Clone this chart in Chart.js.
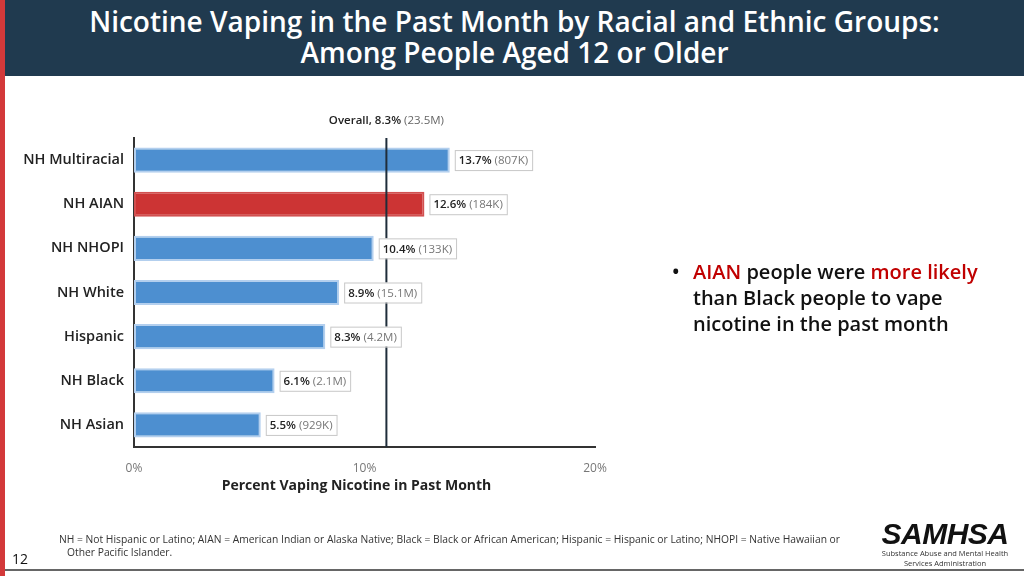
<!DOCTYPE html>
<html>
<head>
<meta charset="utf-8">
<script src="https://cdn.jsdelivr.net/npm/chart.js@4/dist/chart.umd.min.js"></script>
<style>
  html, body { margin:0; padding:0; width:1024px; height:576px; overflow:hidden; background:#fff; font-family:"Open Sans", sans-serif; }
  #stripe { position:absolute; left:0; top:0; width:5px; height:576px; background:#d3393a; }
  #header { position:absolute; left:5px; top:0; width:1019px; height:76px; background:#203a4f; color:#fff; text-align:center; font-weight:600; font-size:28px; line-height:31px; padding-top:6px; box-sizing:border-box; }
  #chartWrap { position:absolute; left:0; top:0; width:1024px; height:576px; }
  #bullet { position:absolute; left:672px; top:259px; width:345px; font-size:20px; font-weight:600; line-height:26px; color:#111; }
  #bullet .dot { position:absolute; left:0; top:0; }
  #bullet .txt { position:absolute; left:21px; top:0; width:330px; white-space:nowrap; }
  .red { color:#c00000; }
  #foot { position:absolute; left:59px; top:533px; font-size:10.3px; line-height:13px; color:#333; width:800px; }
  #pagenum { position:absolute; left:12px; top:549px; font-size:14px; color:#111; }
  #logo { position:absolute; left:870px; top:519px; width:150px; text-align:center; }
  #logo .big { font-size:30px; font-weight:900; font-style:italic; line-height:30px; letter-spacing:-0.5px; color:#111; font-family:"Liberation Sans", Arial, sans-serif; }
  #logo .small { font-size:7.5px; line-height:9.5px; color:#333; }
  #bottomLine { position:absolute; left:5px; top:569px; width:1019px; height:2px; background:#666; }
</style>
</head>
<body>
<div id="stripe"></div>
<div id="header">Nicotine Vaping in the Past Month by Racial and Ethnic Groups:<br>Among People Aged 12 or Older</div>
<div id="chartWrap"><canvas id="c" width="1024" height="576"></canvas></div>
<div id="bullet"><span class="dot">•</span><div class="txt"><span class="red">AIAN</span> people were <span class="red">more likely</span><br>than Black people to vape<br>nicotine in the past month</div></div>
<div id="foot">NH = Not Hispanic or Latino; AIAN = American Indian or Alaska Native; Black = Black or African American; Hispanic = Hispanic or Latino; NHOPI = Native Hawaiian or<br>&nbsp;&nbsp;&nbsp;Other Pacific Islander.</div>
<div id="pagenum">12</div>
<div id="logo"><div class="big">SAMHSA</div><div class="small">Substance Abuse and Mental Health<br>Services Administration</div></div>
<div id="bottomLine"></div>
<script>
const categories = ['NH Multiracial', 'NH AIAN', 'NH NHOPI', 'NH White', 'Hispanic', 'NH Black', 'NH Asian'];
const percentValues = [13.7, 12.6, 10.4, 8.9, 8.3, 6.1, 5.5];
const countLabels = ['807K', '184K', '133K', '15.1M', '4.2M', '2.1M', '929K'];
const highlightCategory = 'NH AIAN';
const xTickValues = [0, 10, 20];
const overallLinePosition = 10.95; // where the reference line is drawn
const overallLabelBold = 'Overall, 8.3%';
const overallLabelCount = '(23.5M)';
const xAxisTitle = 'Percent Vaping Nicotine in Past Month';

const FONT = '"Open Sans", sans-serif';

const overlayPlugin = {
  id: 'overlay',
  afterDatasetsDraw(chart) {
    const ctx = chart.ctx;
    const xs = chart.scales.x;
    const area = chart.chartArea;
    ctx.save();
    const ox = xs.getPixelForValue(overallLinePosition);
    ctx.strokeStyle = '#1f2d3a';
    ctx.lineWidth = 2;
    ctx.beginPath();
    ctx.moveTo(ox, area.top);
    ctx.lineTo(ox, area.bottom);
    ctx.stroke();
    ctx.textBaseline = 'middle';
    ctx.font = '600 11.5px ' + FONT;
    const w1 = ctx.measureText(overallLabelBold + ' ').width;
    ctx.font = '11.5px ' + FONT;
    const w2 = ctx.measureText(overallLabelCount).width;
    let sx = ox - (w1 + w2) / 2;
    const ly = area.top - 17;
    ctx.font = '600 11.5px ' + FONT;
    ctx.fillStyle = '#222';
    ctx.textAlign = 'left';
    ctx.fillText(overallLabelBold + ' ', sx, ly);
    ctx.font = '11.5px ' + FONT;
    ctx.fillStyle = '#666';
    ctx.fillText(overallLabelCount, sx + w1, ly);

    const meta = chart.getDatasetMeta(0);
    meta.data.forEach((bar, i) => {
      const pctText = percentValues[i].toFixed(1) + '%';
      const cntText = '(' + countLabels[i] + ')';
      ctx.font = '600 11.5px ' + FONT;
      const a = ctx.measureText(pctText + ' ').width;
      ctx.font = '11.5px ' + FONT;
      const b = ctx.measureText(cntText).width;
      const bx = bar.x + 5;
      const bh = 20;
      const by = bar.y - bh / 2;
      const bw = a + b + 8;
      ctx.fillStyle = '#fff';
      ctx.fillRect(bx, by, bw, bh);
      ctx.strokeStyle = '#c8c8c8';
      ctx.lineWidth = 1;
      ctx.strokeRect(bx + 0.5, by + 0.5, bw, bh);
      ctx.font = '600 11.5px ' + FONT;
      ctx.fillStyle = '#222';
      ctx.fillText(pctText + ' ', bx + 4, bar.y + 1);
      ctx.font = '11.5px ' + FONT;
      ctx.fillStyle = '#777';
      ctx.fillText(cntText, bx + 4 + a, bar.y + 1);
    });

    ctx.font = '700 14px ' + FONT;
    ctx.fillStyle = '#222';
    ctx.textAlign = 'center';
    ctx.fillText(xAxisTitle, (area.left + area.right) / 2 - 8, area.bottom + 39);
    ctx.restore();
  }
};

new Chart(document.getElementById('c'), {
  type: 'bar',
  data: {
    labels: categories,
    datasets: [{
      data: percentValues,
      backgroundColor: categories.map(c => c === highlightCategory ? '#cc3434' : '#4d8fd0'),
      borderColor: categories.map(c => c === highlightCategory ? '#d25050' : '#b3cfee'),
      borderWidth: 2,
      borderSkipped: false,
      barPercentage: 0.57,
      categoryPercentage: 1.0
    }]
  },
  options: {
    indexAxis: 'y',
    responsive: false,
    animation: false,
    devicePixelRatio: 1,
    layout: { padding: { left: 0, top: 138, right: 429, bottom: 89 } },
    plugins: { legend: { display: false }, tooltip: { enabled: false }, title: { display: false } },
    scales: {
      x: {
        min: 0, max: 20,
        afterBuildTicks(scale) { scale.ticks = xTickValues.map(v => ({ value: v })); },
        afterFit(scale) { scale.height = 40; },
        grid: { display: false, drawTicks: false },
        border: { display: true, color: '#333', width: 2 },
        ticks: { padding: 14, color: '#777', font: { family: FONT, size: 12 }, callback: v => v + '%', maxRotation: 0 }
      },
      y: {
        afterFit(scale) { scale.width = 134; },
        grid: { display: false, drawTicks: false },
        border: { display: true, color: '#333', width: 2 },
        ticks: { padding: 10, color: '#222', font: { family: FONT, size: 14.5, weight: '600' } }
      }
    }
  },
  plugins: [overlayPlugin]
});
</script>
</body>
</html>
